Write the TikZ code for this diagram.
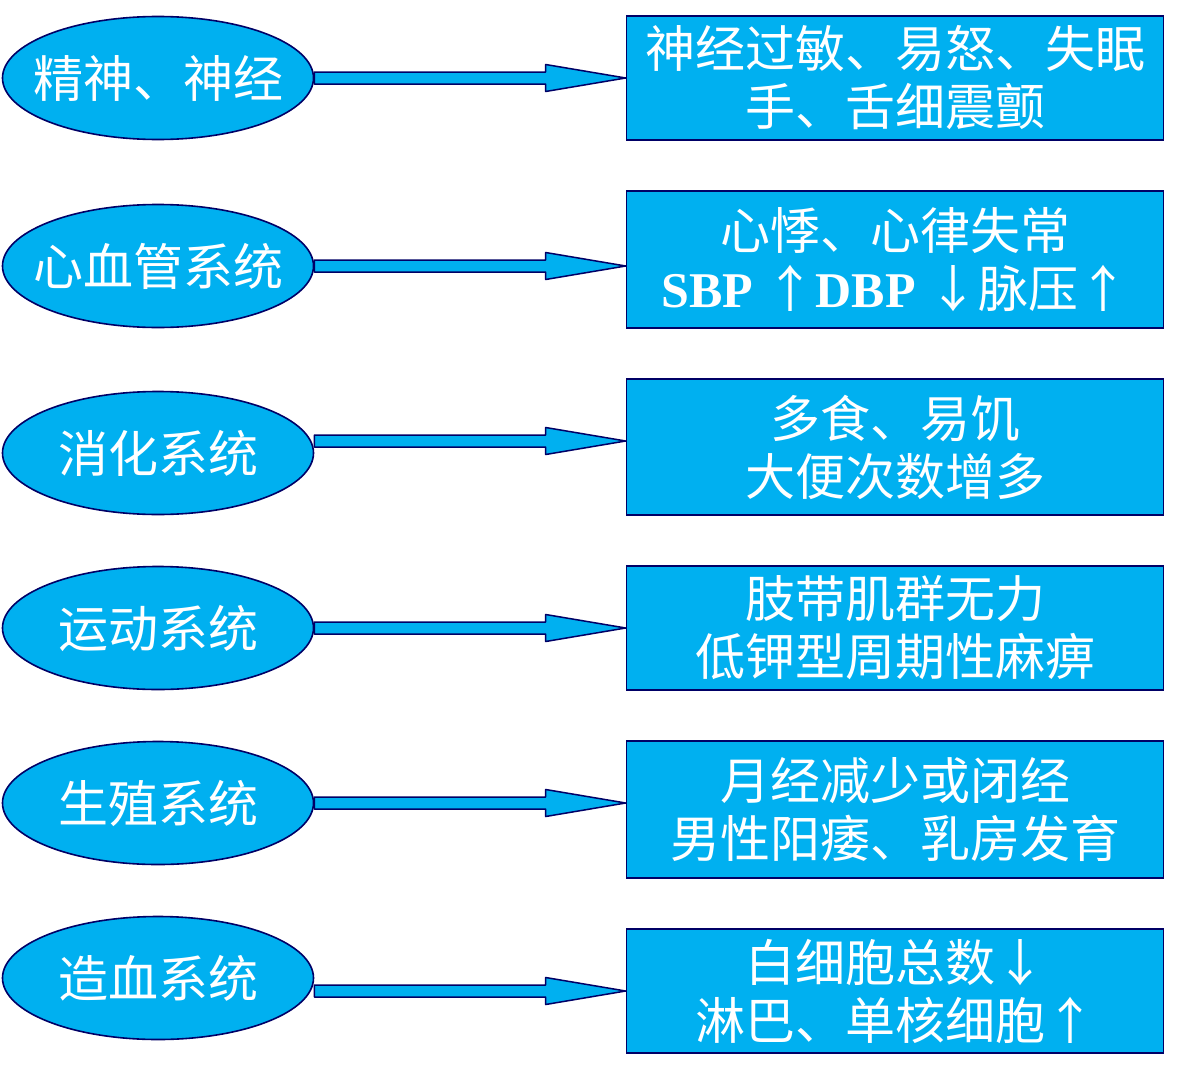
\documentclass[tikz,border=0pt]{standalone}
\usepackage{fontspec}
\setmainfont{Liberation Serif}
\newfontfamily\cjk{Noto Sans CJK SC}
\usetikzlibrary{shapes.geometric,calc}
\definecolor{fillc}{RGB}{0,176,240}
\definecolor{edgec}{RGB}{0,0,102}
\newcommand\blkarrow[3]{%
  \draw[arrowbody] let \p1=(#1.east |- #3), \p2=(#2.west |- #3) in
    (\x1,\y1+6pt) -- (\x2-80pt,\y1+6pt) -- (\x2-80pt,\y1+13.5pt) -- (\x2,\y1)
    -- (\x2-80pt,\y1-13.5pt) -- (\x2-80pt,\y1-6pt) -- (\x1,\y1-6pt) -- cycle;}
\begin{document}
\begin{tikzpicture}[x=1pt,y=-1pt,
  sysnode/.style={ellipse, draw=edgec, fill=fillc, line width=1.6pt,
    minimum width=311pt, minimum height=123pt, inner sep=0pt,
    label={[systext]center:#1}},
  systext/.style={text=white, inner sep=0pt, font=\cjk\fontsize{50}{58}\selectfont},
  symbox/.style={rectangle, draw=edgec, fill=fillc, line width=1.6pt,
    minimum width=537pt, inner sep=0pt, text=white, align=center,
    font=\cjk\fontsize{50}{58}\selectfont},
  arrowbody/.style={draw=edgec, fill=fillc, line width=1.5pt, line join=round}]
\useasboundingbox (0,0) rectangle (1177,1081);
% ellipses
\node[sysnode={精神、神经}] (e1) at (158,78) {};
\node[sysnode={心血管系统}] (e2) at (158,266) {};
\node[sysnode={消化系统}] (e3) at (158,453) {};
\node[sysnode={运动系统}] (e4) at (158,628) {};
\node[sysnode={生殖系统}] (e5) at (158,803) {};
\node[sysnode={造血系统}] (e6) at (158,978) {};
% boxes
\node[symbox, minimum height=124pt] (b1) at (895,78) {神经过敏、易怒、失眠\\手、舌细震颤};
\node[symbox, minimum height=137pt] (b2) at (895,259.5) {心悸、心律失常\\{\rmfamily\bfseries SBP }↑{\rmfamily\bfseries DBP }↓脉压↑};
\node[symbox, minimum height=136pt] (b3) at (895,447) {多食、易饥\\大便次数增多};
\node[symbox, minimum height=124pt] (b4) at (895,628) {肢带肌群无力\\低钾型周期性麻痹};
\node[symbox, minimum height=137pt] (b5) at (895,809.5) {月经减少或闭经\\男性阳痿、乳房发育};
\node[symbox, minimum height=124pt] (b6) at (895,991) {白细胞总数↓\\淋巴、单核细胞↑};
% arrow levels
\coordinate (l1) at (0,78);
\coordinate (l2) at (0,266);
\coordinate (l3) at (0,441);
\coordinate (l4) at (0,628);
\coordinate (l5) at (0,803);
\coordinate (l6) at (0,991);
\blkarrow{e1}{b1}{l1}
\blkarrow{e2}{b2}{l2}
\blkarrow{e3}{b3}{l3}
\blkarrow{e4}{b4}{l4}
\blkarrow{e5}{b5}{l5}
\blkarrow{e6}{b6}{l6}
\end{tikzpicture}
\end{document}
